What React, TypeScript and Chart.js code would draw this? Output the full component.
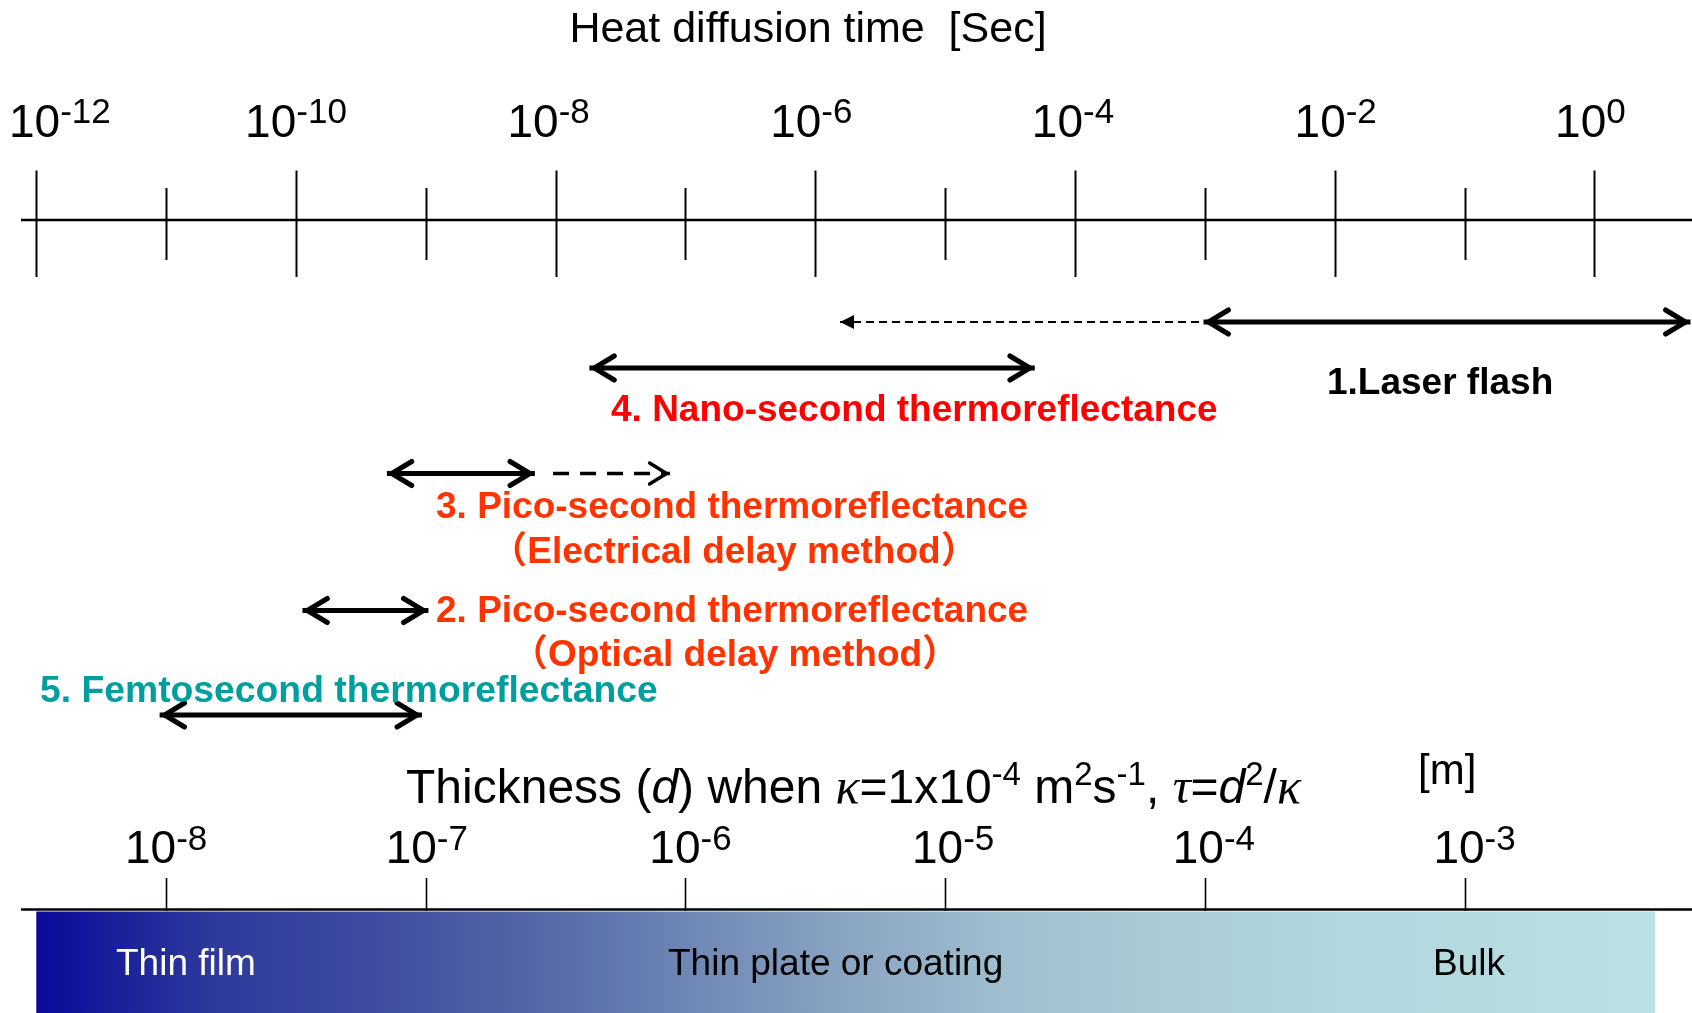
import React, { useEffect, useRef } from "react";
import { Chart, registerables } from "chart.js";

Chart.register(...registerables);

// ---------------- data ----------------
const TIME_TICK_EXPONENTS = [-12, -11, -10, -9, -8, -7, -6, -5, -4, -3, -2, -1, 0];
const TIME_LABEL_EXPONENTS = [-12, -10, -8, -6, -4, -2, 0];
const THICKNESS_EXPONENTS = [-8, -7, -6, -5, -4, -3];

const LASER_FLASH_RANGE = [-3.01, 0.74];
const LASER_FLASH_EXTENSION = [-5.81, -3.01];
const NANO_TR_RANGE = [-7.74, -4.31];
const PICO_ELECTRICAL_RANGE = [-9.3, -8.16];
const PICO_ELECTRICAL_EXTENSION = [-8.02, -7.12];
const PICO_OPTICAL_RANGE = [-9.95, -8.98];
const FEMTO_TR_RANGE = [-11.05, -9.03];

const METHOD_NAMES = [
  "1.Laser flash",
  "4. Nano-second thermoreflectance",
  "3. Pico-second thermoreflectance",
  "2. Pico-second thermoreflectance",
  "5. Femtosecond thermoreflectance",
];
const METHOD_NOTES = ["（Electrical delay method）", "（Optical delay method）"];
const REGION_NAMES = ["Thin film", "Thin plate or coating", "Bulk"];
const TOP_TITLE = "Heat diffusion time  [Sec]";
const UNIT_LABEL = "[m]";

// ---------------- layout / style ----------------
const W = 1692;
const H = 1013;
const X_MIN = -12.2796; // time exponent at left canvas edge
const X_MAX = 0.7519; // time exponent at right canvas edge
// thickness exponent axis: time = 2*d + 5 on this diagram
const X2_MIN = (X_MIN - 5) / 2;
const X2_MAX = (X_MAX - 5) / 2;

// small horizontal nudges of the tick labels (px), as placed in the original
const TOP_LABEL_NUDGE = [0, 0, -7, -4, -2, 1, -4];
const BOTTOM_LABEL_NUDGE = [0, 1, 5, 8, 9, 10];

const FONT = '"Liberation Sans", Arial, "Noto Sans CJK JP", sans-serif';
const SERIF = '"Liberation Serif", "Times New Roman", serif';

const ROW = {
  laser: 322,
  nano: 368,
  picoE: 473.5,
  picoO: 610.5,
  femto: 715,
};

const GRADIENT_STOPS: [number, string][] = [
  [0, "#0A0A9A"],
  [0.11, "#2E3A9C"],
  [0.21, "#3F4CA0"],
  [0.31, "#5568A8"],
  [0.41, "#7089B6"],
  [0.5, "#8AA4C2"],
  [0.6, "#9FBFD0"],
  [0.7, "#A9CCD6"],
  [0.8, "#B1D6DE"],
  [1, "#BAE1E3"],
];

type Head = "open" | "filled" | "small" | null;

function seg(range: number[], y: number, opts: any) {
  return {
    data: [
      { x: range[0], y },
      { x: range[1], y },
    ],
    showLine: true,
    pointRadius: 0,
    borderColor: "#000",
    backgroundColor: "#000",
    borderWidth: 5,
    borderCapStyle: "butt",
    xAxisID: "x",
    yAxisID: "y",
    ...opts,
  };
}

function drawPower(
  ctx: CanvasRenderingContext2D,
  exp: string,
  cx: number,
  baseline: number,
  baseSize: number,
  supSize: number,
  raise: number,
  minLeft: number
) {
  ctx.font = `${baseSize}px ${FONT}`;
  const w1 = ctx.measureText("10").width;
  ctx.font = `${supSize}px ${FONT}`;
  const w2 = ctx.measureText(exp).width;
  const left = Math.max(minLeft, cx - (w1 + w2) / 2);
  ctx.textAlign = "left";
  ctx.textBaseline = "alphabetic";
  ctx.font = `${baseSize}px ${FONT}`;
  ctx.fillText("10", left, baseline);
  ctx.font = `${supSize}px ${FONT}`;
  ctx.fillText(exp, left + w1, baseline - raise);
}

function drawRuns(
  ctx: CanvasRenderingContext2D,
  runs: { t: string; f: string; dy?: number }[],
  x: number,
  baseline: number
) {
  ctx.textAlign = "left";
  ctx.textBaseline = "alphabetic";
  let cx = x;
  for (const r of runs) {
    ctx.font = r.f;
    ctx.fillText(r.t, cx, baseline + (r.dy || 0));
    cx += ctx.measureText(r.t).width;
  }
}

const axesPlugin = {
  id: "diagramAxes",
  beforeDatasetsDraw(chart: any) {
    const ctx: CanvasRenderingContext2D = chart.ctx;
    const xs = chart.scales.x;
    const x2 = chart.scales.x2;
    ctx.save();
    // gradient bar
    const barL = xs.getPixelForValue(-12);
    const barR = xs.getPixelForValue(0.467);
    const g = ctx.createLinearGradient(barL, 0, barR, 0);
    GRADIENT_STOPS.forEach(([o, c]) => g.addColorStop(o, c));
    ctx.fillStyle = g;
    ctx.fillRect(barL, 911.5, barR - barL, H - 911.5);

    ctx.strokeStyle = "#000";
    // top axis
    ctx.lineWidth = 2.5;
    ctx.beginPath();
    ctx.moveTo(21, 220);
    ctx.lineTo(W, 220);
    ctx.stroke();
    ctx.lineWidth = 2;
    TIME_TICK_EXPONENTS.forEach((e) => {
      const px = Math.round(xs.getPixelForValue(e)) + 0.5;
      const major = e % 2 === 0;
      ctx.beginPath();
      ctx.moveTo(px, major ? 170.5 : 188);
      ctx.lineTo(px, major ? 277 : 260);
      ctx.stroke();
    });
    // bottom axis
    ctx.lineWidth = 2.5;
    ctx.beginPath();
    ctx.moveTo(21, 909.5);
    ctx.lineTo(W, 909.5);
    ctx.stroke();
    ctx.lineWidth = 1.6;
    THICKNESS_EXPONENTS.forEach((e) => {
      const px = Math.round(x2.getPixelForValue(e)) + 0.5;
      ctx.beginPath();
      ctx.moveTo(px, 878);
      ctx.lineTo(px, 911);
      ctx.stroke();
    });
    ctx.restore();
  },
  afterDatasetsDraw(chart: any) {
    const ctx: CanvasRenderingContext2D = chart.ctx;
    ctx.save();
    chart.data.datasets.forEach((ds: any, i: number) => {
      const pts = chart.getDatasetMeta(i).data;
      if (!pts || pts.length < 2) return;
      const ends: [any, Head, number][] = [
        [pts[0], ds.headStart as Head, 1],
        [pts[pts.length - 1], ds.headEnd as Head, -1],
      ];
      ends.forEach(([p, kind, dir]) => {
        if (!kind) return;
        ctx.setLineDash([]);
        if (kind === "filled") {
          ctx.fillStyle = "#000";
          ctx.beginPath();
          ctx.moveTo(p.x, p.y);
          ctx.lineTo(p.x + dir * 14, p.y - 7);
          ctx.lineTo(p.x + dir * 14, p.y + 7);
          ctx.closePath();
          ctx.fill();
        } else {
          const back = kind === "small" ? 17 : 20;
          const half = kind === "small" ? 10.5 : 12;
          const lw = kind === "small" ? 3.5 : 5;
          // shift vertex inward so the miter's outer point lands on the end value
          const sinA = half / Math.hypot(back, half);
          const inset = lw / 2 / sinA;
          const vx = p.x + dir * inset;
          ctx.strokeStyle = "#000";
          ctx.lineWidth = lw;
          ctx.lineJoin = "miter";
          ctx.lineCap = "round";
          ctx.beginPath();
          ctx.moveTo(vx + dir * back, p.y - half);
          ctx.lineTo(vx, p.y);
          ctx.lineTo(vx + dir * back, p.y + half);
          ctx.stroke();
        }
      });
    });
    ctx.restore();
  },
  afterDraw(chart: any) {
    const ctx: CanvasRenderingContext2D = chart.ctx;
    const xs = chart.scales.x;
    const x2 = chart.scales.x2;
    ctx.save();
    ctx.fillStyle = "#000";
    ctx.textBaseline = "alphabetic";

    // top title
    ctx.font = `43px ${FONT}`;
    ctx.textAlign = "center";
    ctx.fillText(TOP_TITLE, 808, 42);

    // top tick labels
    TIME_LABEL_EXPONENTS.forEach((e, i) => {
      drawPower(ctx, String(e), xs.getPixelForValue(e) + TOP_LABEL_NUDGE[i], 137, 46, 35, 14, 9);
    });

    // bottom tick labels
    THICKNESS_EXPONENTS.forEach((e, i) => {
      drawPower(ctx, String(e), x2.getPixelForValue(e) + BOTTOM_LABEL_NUDGE[i], 863, 46, 35, 13, 9);
    });

    // thickness title
    const base = `48px ${FONT}`;
    const ital = `italic 48px ${FONT}`;
    const greek = `italic 50px ${SERIF}`;
    const sup = `33px ${FONT}`;
    drawRuns(
      ctx,
      [
        { t: "Thickness (", f: base },
        { t: "d", f: ital },
        { t: ") when ", f: base },
        { t: "κ", f: greek },
        { t: "=1x10", f: base },
        { t: "-4", f: sup, dy: -18 },
        { t: " m", f: base },
        { t: "2", f: sup, dy: -18 },
        { t: "s", f: base },
        { t: "-1", f: sup, dy: -18 },
        { t: ", ", f: base },
        { t: "τ", f: greek },
        { t: "=", f: base },
        { t: "d", f: ital },
        { t: "2", f: sup, dy: -18 },
        { t: "/", f: base },
        { t: "κ", f: greek },
      ],
      406,
      803
    );

    // unit
    ctx.font = `42px ${FONT}`;
    ctx.textAlign = "left";
    ctx.fillText(UNIT_LABEL, 1418, 784);

    // method labels
    const bold = `bold 37px ${FONT}`;
    ctx.font = bold;
    ctx.textAlign = "left";
    ctx.fillStyle = "#000";
    ctx.fillText(METHOD_NAMES[0], 1327, 394);
    ctx.fillStyle = "#FF0000";
    ctx.fillText(METHOD_NAMES[1], 611, 421);
    ctx.fillStyle = "#FF3300";
    ctx.fillText(METHOD_NAMES[2], 436, 518);
    ctx.textAlign = "center";
    ctx.fillText(METHOD_NOTES[0], 734, 563);
    ctx.textAlign = "left";
    ctx.fillText(METHOD_NAMES[3], 436, 622);
    ctx.textAlign = "center";
    ctx.fillText(METHOD_NOTES[1], 735, 666);
    ctx.textAlign = "left";
    ctx.fillStyle = "#009F9F";
    ctx.font = `bold 37.3px ${FONT}`;
    ctx.fillText(METHOD_NAMES[4], 40, 702);

    // region labels on the bar
    ctx.font = `37px ${FONT}`;
    ctx.fillStyle = "#FFFFFF";
    ctx.fillText(REGION_NAMES[0], 116, 975);
    ctx.fillStyle = "#000";
    ctx.fillText(REGION_NAMES[1], 668, 975);
    ctx.fillText(REGION_NAMES[2], 1433, 975);
    ctx.restore();
  },
};

export default function App() {
  const ref = useRef<HTMLCanvasElement>(null);
  useEffect(() => {
    const datasets = [
      seg(LASER_FLASH_RANGE, ROW.laser, { headStart: "open", headEnd: "open" }),
      seg(LASER_FLASH_EXTENSION, ROW.laser, {
        borderWidth: 2,
        borderDash: [8, 5],
        headStart: "filled",
        headEnd: null,
      }),
      seg(NANO_TR_RANGE, ROW.nano, { headStart: "open", headEnd: "open" }),
      seg(PICO_ELECTRICAL_RANGE, ROW.picoE, { headStart: "open", headEnd: "open" }),
      seg(PICO_ELECTRICAL_EXTENSION, ROW.picoE, {
        borderWidth: 3.5,
        borderDash: [16, 11],
        headStart: null,
        headEnd: "small",
      }),
      seg(PICO_OPTICAL_RANGE, ROW.picoO, { headStart: "open", headEnd: "open" }),
      seg(FEMTO_TR_RANGE, ROW.femto, { headStart: "open", headEnd: "open" }),
    ];
    const chart = new Chart(ref.current as HTMLCanvasElement, {
      type: "scatter",
      data: { datasets: datasets as any },
      options: {
        animation: false,
        responsive: false,
        events: [],
        layout: { padding: 0 },
        plugins: { legend: { display: false }, tooltip: { enabled: false } },
        scales: {
          x: { type: "linear", min: X_MIN, max: X_MAX, display: false },
          x2: { type: "linear", min: X2_MIN, max: X2_MAX, display: false },
          y: { type: "linear", min: 0, max: H, reverse: true, display: false },
        },
      } as any,
      plugins: [axesPlugin as any],
    });
    return () => chart.destroy();
  }, []);
  return (
    <div style={{ position: "absolute", left: 0, top: 0, width: W, height: H, background: "#fff" }}>
      <canvas ref={ref} width={W} height={H} style={{ display: "block", width: W, height: H }} />
    </div>
  );
}
